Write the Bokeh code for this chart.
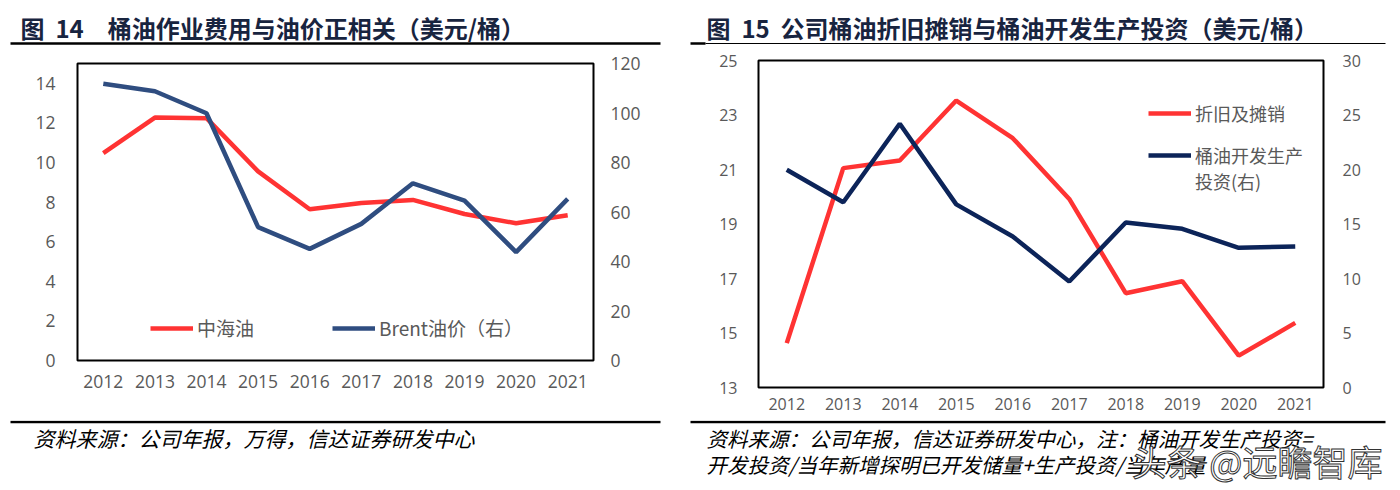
from bokeh.plotting import figure
from bokeh.models import Range1d, LinearAxis, FixedTicker, Legend, LegendItem
from bokeh.core.properties import value
from bokeh.layouts import row, column
from bokeh.embed import file_html
from bokeh.resources import INLINE

# ---------------- data ----------------
years = ["2012", "2013", "2014", "2015", "2016", "2017", "2018", "2019", "2020", "2021"]
xi = list(range(len(years)))

# Figure 14
cnooc_opex = [10.47, 12.27, 12.24, 9.55, 7.64, 7.96, 8.11, 7.40, 6.93, 7.34]     # 中海油 (left axis)
brent_price = [111.8, 108.8, 99.9, 53.9, 45.1, 55.2, 71.6, 64.6, 43.8, 65.3]     # Brent油价 (right axis)
f14_left_ticks = [0, 2, 4, 6, 8, 10, 12, 14]
f14_right_ticks = [0, 20, 40, 60, 80, 100, 120]

# Figure 15
dda_per_bbl = [14.63, 21.05, 21.33, 23.53, 22.15, 19.92, 16.46, 16.90, 14.17, 15.37]   # 折旧及摊销 (left)
capex_per_bbl = [19.97, 17.00, 24.20, 16.80, 13.85, 9.72, 15.14, 14.56, 12.82, 12.94]  # 桶油开发生产投资 (right)
f15_left_ticks = [13, 15, 17, 19, 21, 23, 25]
f15_right_ticks = [0, 5, 10, 15, 20, 25, 30]

title14 = "图\u00a0\u00a014\u3000桶油作业费用与油价正相关（美元/桶）"
title15 = "图\u00a0\u00a015\u00a0\u00a0公司桶油折旧摊销与桶油开发生产投资（美元/桶）"
note14 = "资料来源：公司年报，万得，信达证券研发中心"
note15_1 = "资料来源：公司年报，信达证券研发中心，注：桶油开发生产投资="
note15_2 = "开发投资/当年新增探明已开发储量+生产投资/当年产量"
watermark = "头条 @远瞻智库"

RED = "#FF3333"
BLUE14 = "#2F4D80"
BLUE15 = "#0C2459"
GREY = "#595959"
TITLE_C = "#18243F"
TICK_FONT = "Open Sans"
CJK = "Noto Sans CJK SC"
W_TOTAL = 1398


def make_fig(w, ylo, yhi, rlo, rhi, lticks, rticks, bl, br, bt, bb,
             lstand, rstand, xstand, tick_size):
    p = figure(width=w, height=374, x_range=Range1d(-0.5, len(years) - 0.5),
               y_range=Range1d(ylo, yhi), output_backend="svg", toolbar_location=None,
               min_border_left=bl, min_border_right=br, min_border_top=bt,
               min_border_bottom=bb)
    p.extra_y_ranges = {"r": Range1d(rlo, rhi)}
    p.add_layout(LinearAxis(y_range_name="r"), "right")
    p.xgrid.visible = False
    p.ygrid.visible = False
    p.outline_line_color = "black"
    p.outline_line_width = 2
    p.background_fill_color = "white"
    p.border_fill_color = "white"
    for ax in p.axis:
        ax.axis_line_color = None
        ax.major_tick_line_color = None
        ax.minor_tick_line_color = None
        ax.major_tick_out = 0
        ax.major_tick_in = 0
        ax.major_label_text_color = GREY
        ax.major_label_text_font = TICK_FONT
        ax.major_label_text_font_size = tick_size
    p.xaxis.ticker = FixedTicker(ticks=xi)
    p.xaxis.major_label_overrides = {i: y for i, y in zip(xi, years)}
    p.yaxis[0].ticker = FixedTicker(ticks=lticks)
    p.yaxis[1].ticker = FixedTicker(ticks=rticks)
    p.yaxis[0].major_label_standoff = lstand
    p.yaxis[1].major_label_standoff = rstand
    p.xaxis.major_label_standoff = xstand
    return p


def strip(h):
    s = figure(width=W_TOTAL, height=h, x_range=Range1d(0, W_TOTAL), y_range=Range1d(h, 0),
               output_backend="svg", toolbar_location=None, min_border=0,
               x_axis_location=None, y_axis_location=None)
    s.xgrid.visible = False
    s.ygrid.visible = False
    s.outline_line_color = None
    return s


def put_text(s, x, y, t, size, color, style="normal", **kw):
    s.text(x=[x], y=[y], text=[t], text_font=value(CJK), text_font_size=size,
           text_color=color, text_font_style=style, text_baseline="middle",
           text_align="left", **kw)


# ---------------- header strip (titles) ----------------
top = strip(46)
put_text(top, 20, 27, title14, "24px", TITLE_C, "bold")
put_text(top, 706, 27, title15, "24px", TITLE_C, "bold")
top.segment(x0=[10, 690, 705], y0=[43, 43, 43], x1=[660, 705, 1385], y1=[43, 43, 43],
            line_color="black", line_width=[2.5, 2.5, 1.2])

# ---------------- Figure 14 ----------------
p1 = make_fig(692, 0, 15, 0, 120, f14_left_ticks, f14_right_ticks,
              77, 99, 17, 60, 22, 17, 14, "17.5px")
r1 = p1.line(xi, cnooc_opex, line_color=RED, line_width=4.5)
r2 = p1.line(xi, brent_price, line_color=BLUE14, line_width=4.5, y_range_name="r")
leg1 = Legend(items=[LegendItem(label="中海油", renderers=[r1]),
                     LegendItem(label="Brent油价（右）", renderers=[r2])],
              orientation="horizontal", location=(73, 19), spacing=78,
              glyph_width=43, label_standoff=4, padding=0, margin=0,
              border_line_color=None, background_fill_alpha=0,
              label_text_font=CJK, label_text_font_size="19px", label_text_color=GREY)
p1.add_layout(leg1)

# ---------------- Figure 15 ----------------
p2 = make_fig(706, 13, 25, 0, 30, f15_left_ticks, f15_right_ticks,
              66, 75, 14, 33, 21, 19, 10, "16px")
s1 = p2.line(xi, dda_per_bbl, line_color=RED, line_width=4.5)
s2 = p2.line(xi, capex_per_bbl, line_color=BLUE15, line_width=4.5, y_range_name="r")
s3 = p2.line(xi, capex_per_bbl, line_alpha=0, line_width=4.5, y_range_name="r")
leg_kw = dict(glyph_width=43, label_standoff=4, spacing=0,
              padding=0, margin=0, border_line_color=None,
              background_fill_alpha=0, label_text_font=CJK,
              label_text_font_size="18px", label_text_color=GREY)
p2.add_layout(Legend(items=[LegendItem(label="折旧及摊销", renderers=[s1])],
                     location=(390, 261), **leg_kw))
p2.add_layout(Legend(items=[LegendItem(label="桶油开发生产", renderers=[s2]),
                            LegendItem(label="投资(右)", renderers=[s3])],
                     location=(390, 193), **leg_kw))

# ---------------- footer strip (sources) ----------------
bottom = strip(68)
bottom.segment(x0=[10, 690], y0=[1.5, 1.5], x1=[660, 1385], y1=[1.5, 1.5],
               line_color="black", line_width=2.5)
put_text(bottom, 33, 17, note14, "21px", "black", "italic")
put_text(bottom, 706, 17, note15_1, "20.5px", "black", "italic")
put_text(bottom, 706, 43, note15_2, "20.5px", "black", "italic")
put_text(bottom, 1131, 40, watermark, "35px", "white", "normal",
         text_outline_color="#333333")

layout = column(row(top), row(column(p1), column(p2), spacing=0), row(bottom), spacing=0)
open("out.html", "w").write(file_html(layout, INLINE))
